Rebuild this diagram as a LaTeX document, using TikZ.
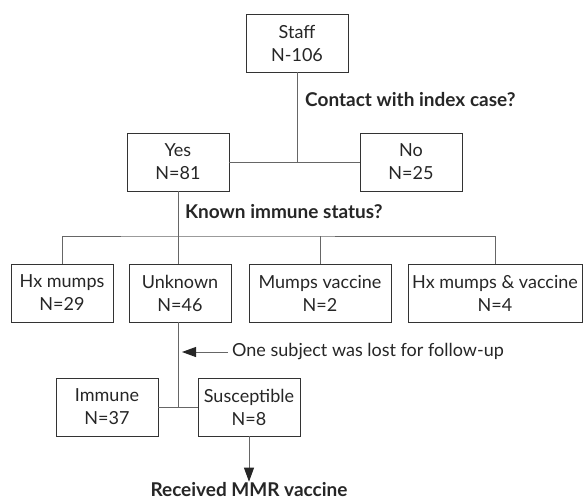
\documentclass[tikz,border=0pt]{standalone}
\usepackage{fontspec}
\setmainfont{Lato}
\usetikzlibrary{arrows.meta,positioning}

\begin{document}
\begin{tikzpicture}[
  x=1pt, y=-1pt,
  box/.style={draw=black!80, rectangle, line width=0.9pt,
              minimum width=102pt, minimum height=58pt,
              align=center, font=\fontsize{18}{23}\selectfont,
              text=black!85, inner sep=0pt},
  ques/.style={font=\fontsize{19}{23}\selectfont\bfseries, text=black!85,
               inner sep=0pt},
  note/.style={font=\fontsize{18}{22}\selectfont, text=black!85,
               inner sep=0pt},
  conn/.style={draw=black!60, line width=0.9pt},
  >={Triangle[length=14pt,width=10pt,color=black!85]}
]
\useasboundingbox (0,0) rectangle (584,501);
% top level
\node[box] (staff) at (297,43)  {Staff\\N-106};
\node[box] (yes)   at (178,162) {Yes\\N=81};
\node[box] (no)    at (411,162) {No\\N=25};
\node[ques, anchor=west] (contact) at (305,100) {Contact with index case?};
% immune status
\node[ques, anchor=west] (known) at (185,212) {Known immune status?};
\node[box] (hx)    at (62,293)  {Hx mumps\\N=29};
\node[box] (unk)   at (180,293) {Unknown\\N=46};
\node[box, minimum width=142pt] (mvac)  at (320,293) {Mumps vaccine\\N=2};
\node[box, minimum width=174pt] (hxvac) at (495,293) {Hx mumps \& vaccine\\N=4};
\coordinate (bus) at (178,236);
% follow-up
\node[note, anchor=west] (lost) at (232,352) {One subject was lost for follow-up};
\coordinate (tip) at (182,352);
\node[box] (imm) at (107,407) {Immune\\N=37};
\node[box] (sus) at (249,407) {Susceptible\\N=8};
\node[ques] (mmr) at (249,490) {Received MMR vaccine};

\draw[conn] (staff.south) -- (staff.south |- yes.east);
\draw[conn] (yes.east) -- (no.west);
\draw[conn] (yes.south) -- (yes.south |- unk.north);
\draw[conn] (hx.north) |- (bus) -| (hxvac.north);
\draw[conn] (mvac.north) -- (mvac.north |- bus);
\draw[conn] (unk.south -| yes.south) -- (yes.south |- imm.east);
\draw[conn] (imm.east) -- (sus.west);
\draw[conn, ->, shorten <=4pt] (lost.west) -- (tip);
\draw[conn, ->, shorten >=1pt] (sus.south) -- (mmr.north);
\end{tikzpicture}
\end{document}
